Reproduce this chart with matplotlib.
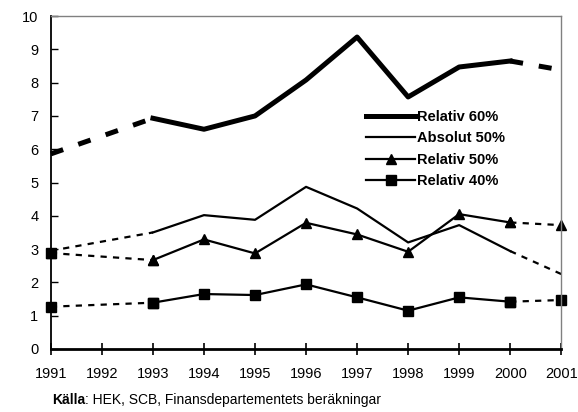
"""Fattigdomsmått 1991-2001, relativa och absoluta gränser."""

import matplotlib

matplotlib.use("Agg")
from matplotlib import pyplot as plt  # noqa: E402

years = [1991, 1993, 1994, 1995, 1996, 1997, 1998, 1999, 2000, 2001]
tick_years = list(range(1991, 2002))

relativ_60 = [5.86, 6.93, 6.60, 7.00, 8.08, 9.37, 7.57, 8.47, 8.65, 8.38]
absolut_50 = [2.95, 3.50, 4.02, 3.88, 4.87, 4.22, 3.20, 3.72, 2.94, 2.25]
relativ_50 = [2.88, 2.67, 3.29, 2.87, 3.79, 3.44, 2.92, 4.05, 3.80, 3.72]
relativ_40 = [1.27, 1.39, 1.65, 1.62, 1.94, 1.55, 1.15, 1.55, 1.42, 1.47]

labels = ["Relativ 60%", "Absolut 50%", "Relativ 50%", "Relativ 40%"]

plt.rcParams["font.family"] = ["Liberation Sans", "DejaVu Sans"]


def _draw_series(ax, values, label, lw, marker=None, dashes=(3, 3), first_marker=None):
    style = dict(color="black", linewidth=lw, marker=marker, markersize=7,
                 markeredgecolor="black", markerfacecolor="black")
    # dashed ends: 1991-1993 and 2000-2001
    for sl in (slice(0, 2), slice(8, 10)):
        line, = ax.plot(years[sl], values[sl], clip_on=False, **style)
        line.set_dashes(dashes)
    ax.plot(years[1:9], values[1:9], label=label, **style)
    if first_marker:
        ax.plot(years[:1], values[:1], linestyle="none", marker=first_marker,
                markersize=7, color="black", clip_on=False)


fig = plt.figure(figsize=(5.78, 4.12), dpi=100)
ax = fig.add_axes([0.088, 0.153, 0.883, 0.808])

_draw_series(ax, relativ_60, labels[0], 3.6, dashes=(2.6, 3.2))
_draw_series(ax, absolut_50, labels[1], 1.6, dashes=(2.8, 2.8))
_draw_series(ax, relativ_50, labels[2], 1.6, marker="^", dashes=(2.8, 2.8),
             first_marker="s")
_draw_series(ax, relativ_40, labels[3], 1.6, marker="s", dashes=(2.8, 2.8))

ax.set_xlim(1991, 2001)
ax.set_ylim(0, 10)
ax.set_xticks(tick_years)
ax.set_yticks(range(0, 11))
ax.tick_params(axis="both", labelsize=10.5, colors="black")
ax.tick_params(axis="y", direction="in", length=5, width=1, pad=9)
ax.tick_params(axis="x", direction="inout", length=8, width=1.2, pad=9)

for side in ("top", "right"):
    ax.spines[side].set_color("#808080")
    ax.spines[side].set_linewidth(1.0)
ax.spines["left"].set_linewidth(1.3)
ax.spines["bottom"].set_linewidth(2.0)

ax.legend(loc="upper left", bbox_to_anchor=(0.607, 0.735), frameon=False,
          handlelength=3.3, handletextpad=0.15, labelspacing=0.5,
          borderaxespad=0, prop={"weight": "bold", "size": 10.5})

src = fig.text(0.09, 0.02, "Källa", fontsize=10, fontweight="bold")
ax.annotate(": HEK, SCB, Finansdepartementets beräkningar", xy=(1, 0),
            xycoords=src, va="bottom", fontsize=10)

fig.savefig("out.png", dpi=100)
